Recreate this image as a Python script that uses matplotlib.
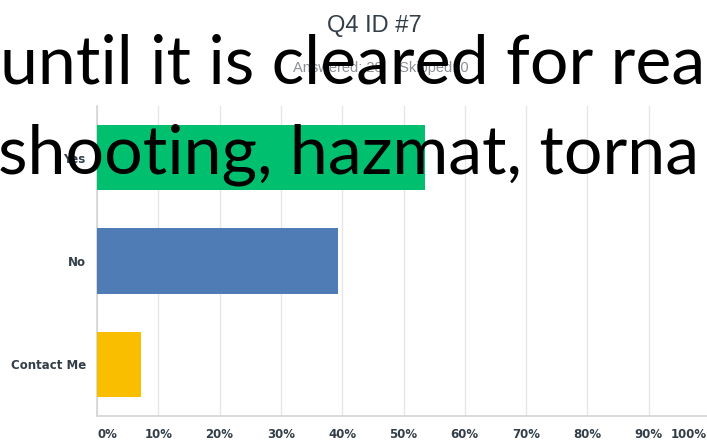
import matplotlib.pyplot as plt
import matplotlib.transforms as mtransforms

categories = ["Yes", "No", "Contact Me"]
answers = [15, 11, 2]
answered = 28
skipped = 0
percents = [a / answered * 100 for a in answers]
bar_colors = ["#00bf6f", "#507cb6", "#f9be00"]
x_ticks = [0, 10, 20, 30, 40, 50, 60, 70, 80, 90, 100]
x_tick_labels = [f"{t}%" for t in x_ticks]

overlay_lines = ["until it is cleared for rea", "shooting, hazmat, torna"]

fig = plt.figure(figsize=(7.07, 4.43), dpi=100)
ax = fig.add_axes([97 / 707, 1 - 416 / 443, 613 / 707, 310 / 443])

ax.barh(range(len(categories)), percents, height=0.63, color=bar_colors, zorder=3)
ax.set_xlim(0, 100)
ax.set_ylim(2.5, -0.5)
ax.set_yticks(range(len(categories)))
ax.set_yticklabels(categories, fontsize=8.5, fontweight="bold", color="#333e48")
ax.tick_params(axis="y", length=0, pad=8)

ax.set_xticks(x_ticks)
ax.set_xticklabels(x_tick_labels, fontsize=8.5, fontweight="bold", color="#333e48")
ax.tick_params(axis="x", length=0, pad=9)
labels = ax.get_xticklabels()
labels[0].set_ha("left")
labels[-1].set_ha("right")
labels[-1].set_transform(labels[-1].get_transform() + mtransforms.ScaledTranslation(-3 / 100, 0, fig.dpi_scale_trans))

ax.grid(axis="x", color="#e6e6e6", linewidth=1, zorder=0)
for side in ["top", "right"]:
    ax.spines[side].set_visible(False)
ax.spines["left"].set_color("#d4d4d4")
ax.spines["bottom"].set_color("#d4d4d4")
ax.spines["left"].set_linewidth(1.2)
ax.spines["bottom"].set_linewidth(1.2)

fig.text(374 / 707, 1 - 32 / 443, "Q4 ID #7", ha="center", va="baseline",
         fontsize=17, color="#333e48", family="Liberation Sans")
fig.text(381 / 707, 1 - 68 / 443, f"Answered: {answered}    Skipped: {skipped}",
         ha="center", va="center", fontsize=10.5, color="#8c9196", family="Liberation Sans")

# slide text lying over the screenshot
fig.text(0, 1 - 83 / 443, overlay_lines[0], ha="left", va="baseline",
         fontsize=49, color="black", family="Lato")
fig.text(-2 / 707, 1 - 173 / 443, overlay_lines[1], ha="left", va="baseline",
         fontsize=49, color="black", family="Lato")

fig.savefig("out.png", dpi=100)
